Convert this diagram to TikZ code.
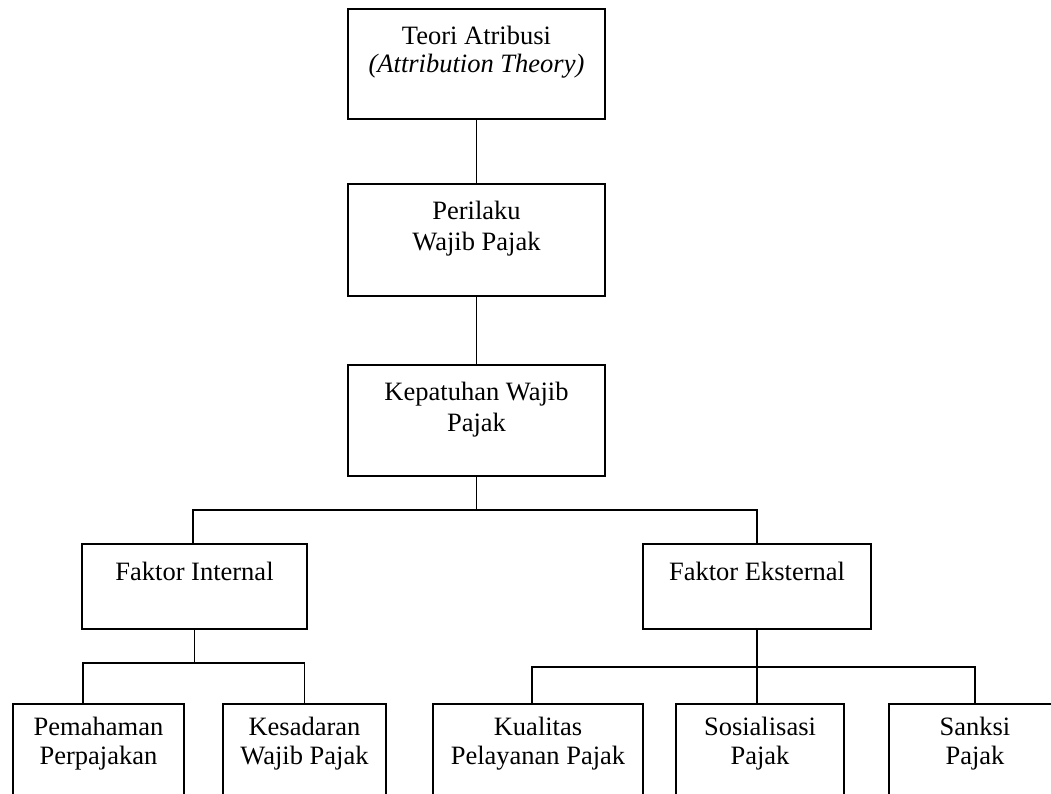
\documentclass[tikz,border=0pt]{standalone}
\usepackage{fontspec}
\setmainfont{Liberation Serif}
\begin{document}
\begin{tikzpicture}[x=1pt,y=-1pt,
  box/.style={draw=black, line width=1.4pt, fill=white, inner sep=0pt, outer sep=0pt},
  lab/.style={anchor=base, inner sep=0pt, yshift=-35pt, font=\fontsize{26.5}{31}\selectfont},
  labb/.style={anchor=base, inner sep=0pt, yshift=-31pt, font=\fontsize{26.5}{29}\selectfont},
  conn/.style={line width=1.4pt, draw=black}]
\clip (0,0) rectangle (1051,793);
\fill[white] (0,0) rectangle (1051,793);

% level 1-3
\node[box, minimum width=257pt, minimum height=110pt,
  label={[lab]north:{\begin{tabular}[t]{@{}c@{}}Teori Atribusi\\[-3pt]\textit{(Attribution Theory)}\end{tabular}}}]
  (teori) at (476.5,64) {};
\node[box, minimum width=257pt, minimum height=112pt,
  label={[lab]north:{\begin{tabular}[t]{@{}c@{}}Perilaku\\Wajib Pajak\end{tabular}}}]
  (perilaku) at (476.5,240) {};
\node[box, minimum width=257pt, minimum height=111pt,
  label={[lab]north:{\begin{tabular}[t]{@{}c@{}}Kepatuhan Wajib\\Pajak\end{tabular}}}]
  (kepatuhan) at (476.5,420.5) {};

% level 4
\node[box, minimum width=225pt, minimum height=85pt,
  label={[lab,yshift=-1pt]north:{Faktor Internal}}]
  (fi) at (194.5,586.5) {};
\node[box, minimum width=228pt, minimum height=85pt,
  label={[lab,yshift=-1pt]north:{Faktor Eksternal}}]
  (fe) at (757,586.5) {};

% level 5
\node[box, minimum width=171pt, minimum height=110pt,
  label={[labb]north:{\begin{tabular}[t]{@{}c@{}}Pemahaman\\Perpajakan\end{tabular}}}]
  (pem) at (98.5,759) {};
\node[box, minimum width=163pt, minimum height=110pt,
  label={[labb]north:{\begin{tabular}[t]{@{}c@{}}Kesadaran\\Wajib Pajak\end{tabular}}}]
  (kes) at (304.5,759) {};
\node[box, minimum width=210pt, minimum height=110pt,
  label={[labb]north:{\begin{tabular}[t]{@{}c@{}}Kualitas\\Pelayanan Pajak\end{tabular}}}]
  (kua) at (538,759) {};
\node[box, minimum width=168pt, minimum height=110pt,
  label={[labb]north:{\begin{tabular}[t]{@{}c@{}}Sosialisasi\\Pajak\end{tabular}}}]
  (sos) at (760,759) {};
\node[box, minimum width=172pt, minimum height=110pt,
  label={[labb]north:{\begin{tabular}[t]{@{}c@{}}Sanksi\\Pajak\end{tabular}}}]
  (san) at (975,759) {};

% connectors
\coordinate (b1) at (476.5,510);
\coordinate (b2) at (194.5,663);
\coordinate (b3) at (757,667);
\draw[conn] (teori.south) -- (perilaku.north);
\draw[conn] (perilaku.south) -- (kepatuhan.north);
\draw[conn] (kepatuhan.south) -- (b1);
\draw[conn] ([xshift=-1.5pt]fi.north) |- (b1) -| (fe.north);
\draw[conn] (fi.south) -- (b2);
\draw[conn] ([xshift=-15.5pt]pem.north) |- (b2) -| (kes.north);
\draw[conn] (fe.south) -- (fe.south |- sos.north);
\draw[conn] ([xshift=-6pt]kua.north) |- (b3) -| (san.north);
\end{tikzpicture}
\end{document}
